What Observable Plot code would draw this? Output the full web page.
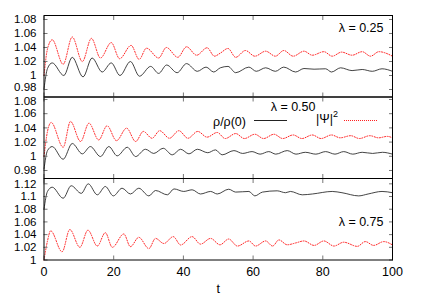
<!DOCTYPE html>
<html><head><meta charset="utf-8">
<script src="https://cdn.jsdelivr.net/npm/d3@7"></script>
<script src="https://cdn.jsdelivr.net/npm/@observablehq/plot@0.6"></script>
<style>
body{margin:0;background:#fff;}
#chart{position:relative;width:436px;height:305px;font-family:"Liberation Sans",Arial,sans-serif;font-size:12.5px;color:#000;}
#chart svg{position:absolute;left:0;}
.lg{position:absolute;line-height:14px;white-space:nowrap;}
.ln{position:absolute;height:0;width:33px;}
</style></head><body><div id="chart"></div><script>
// ---- data ----
const xTicks = [0, 20, 40, 60, 80, 100];
const yTicksA = [0.98, 1, 1.02, 1.04, 1.06, 1.08];
const yTicksB = [0.98, 1, 1.02, 1.04, 1.06, 1.08];
const yTicksC = [1, 1.02, 1.04, 1.06, 1.08, 1.1, 1.12];
const lambdaLabels = ["λ = 0.25", "λ = 0.50", "λ = 0.75"];
const legendLabels = ["ρ/ρ(0)", "|Ψ|"];

// lambda = 0.25
const tRho025 = [0,1,2.35,5.7,8.1,11.2,13.8,16.7,19.3,21.8,24.8,27.4,30.6,32.9,35.2,38.2,40.9,44,46.5,48.7,50.6,52.8,55,58.8,60.9,63.6,66.4,68.8,72.2,74.6,77.5,80.8,82.5,85.1,88.4,91.3,94.2,97,100];
const rho025 = [0.981,1.010,1.018,1.000,1.026,0.998,1.025,1.005,1.018,1.000,1.020,0.999,1.013,1.003,1.015,1.004,1.017,1.006,1.012,1.005,1.011,1.013,1.004,1.012,1.006,1.011,1.006,1.012,1.005,1.010,1.009,1.0096,1.005,1.011,1.007,1.0086,1.006,1.0096,1.006];
const tPsi025 = [0,1,2.35,5.5,8.1,11,13.6,16.2,19.3,21.7,25,27.3,29.4,32.9,35.1,38.4,40.9,43.8,46.8,48.9,50.6,52.8,55,57.8,60.5,63.6,66.4,68.8,71.5,74.6,77,80.3,82.7,85.4,88.4,91.3,93.7,96.1,100];
const psi025 = [1.000,1.038,1.051,1.016,1.055,1.020,1.053,1.025,1.047,1.024,1.043,1.023,1.039,1.025,1.040,1.026,1.041,1.029,1.0396,1.0276,1.032,1.0386,1.026,1.0357,1.0276,1.0347,1.0276,1.0357,1.0276,1.0347,1.029,1.034,1.0276,1.0334,1.029,1.034,1.0276,1.034,1.0276];

// lambda = 0.50
const tRho050 = [0,1,2.35,5.5,8.1,11,13.3,16.2,18.6,21,23.9,26.3,29.1,31.5,34.2,36.8,39.2,41.6,44,47,49.2,51.1,54.5,57,59.7,62,64.5,66.5,69.8,72.3,75,78,80.8,83.5,86,88.6,91.3,94.3,97.1,100];
const rho050 = [0.982,1.008,1.0137,0.9958,1.018,1.0034,1.0137,0.9996,1.0137,1.0006,1.0127,0.9996,1.0099,1.004,1.0113,1.002,1.0099,1.0034,1.0099,1.005,1.009,1.002,1.008,1.004,1.0066,1.003,1.0066,1.003,1.008,1.003,1.0056,1.003,1.0066,1.003,1.0066,1.003,1.0056,1.004,1.0056,1.003];
const tPsi050 = [0,1,2.05,5.5,7.6,10.5,12.9,15.7,18.1,20.8,23.7,26.3,28.5,31,33.2,36,38.7,41.3,44.1,46.8,49.7,52,55,57.5,60.5,63,66,68.5,71.5,74,77,79.5,82.5,85,88,90.5,93.5,96,98.5,100];
const psi050 = [1.000,1.035,1.0476,1.0127,1.049,1.0208,1.0466,1.023,1.043,1.022,1.0396,1.0208,1.035,1.0254,1.036,1.0254,1.036,1.0254,1.035,1.027,1.0335,1.025,1.032,1.025,1.031,1.025,1.031,1.025,1.030,1.025,1.030,1.025,1.030,1.026,1.029,1.025,1.029,1.026,1.028,1.026];

// lambda = 0.75
const tRho075 = [0,1,2.35,5.5,7.8,10.7,12.7,15.3,17.6,19.9,22.4,24.8,27.2,30.1,32,35.4,37.3,40.1,42.5,44.9,47.8,49.7,53,55,58.8,60.5,62.7,66.9,69.3,70.7,74.1,77,82.7,85.5,90.3,93,97,100];
const rho075 = [1.080,1.108,1.1147,1.0973,1.117,1.105,1.120,1.1027,1.1158,1.101,1.1131,1.104,1.1131,1.101,1.1095,1.1027,1.112,1.108,1.1106,1.104,1.108,1.104,1.1115,1.107,1.108,1.101,1.107,1.109,1.106,1.108,1.1027,1.104,1.108,1.106,1.101,1.104,1.108,1.106];
const tPsi075 = [0,1,1.9,5.2,7.4,10.3,12.6,15.3,17.6,19.6,22.9,24.8,27.2,30.1,32,34.4,37.1,39.2,42.5,44.9,47.8,50.5,53,55.5,58.8,60.7,63.6,65.6,67.4,69.8,72.3,74.6,77.5,80.3,83.2,86,89.9,92.2,94.6,97.5,100];
const psi075 = [1.000,1.030,1.046,1.013,1.048,1.020,1.047,1.022,1.043,1.020,1.041,1.021,1.0357,1.018,1.034,1.026,1.0368,1.0237,1.0368,1.025,1.034,1.024,1.033,1.022,1.030,1.022,1.030,1.022,1.0316,1.024,1.027,1.030,1.023,1.030,1.022,1.028,1.0215,1.029,1.023,1.029,1.0237];

// ---- drawing ----
const chart = document.getElementById("chart");
const FONT = '"Liberation Sans", Arial, sans-serif';
const FS = 11.5;
const rows = (ts, vs) => ts.map((t, i) => ({t, v: vs[i]}));

function panel({top, height, mt, mb, domain, yTicks, nudge, tRho, rho, tPsi, psi, label, ldx, ldy, bottomAxis}) {
  const plain = yTicks.filter(d => !nudge || d !== nudge.tick);
  const marks = [
    Plot.line(rows(tPsi, psi), {x: "t", y: "v", stroke: "#ff2020", strokeWidth: 1, strokeDasharray: "1,1.6", curve: "monotone-x"}),
    Plot.line(rows(tRho, rho), {x: "t", y: "v", stroke: "#222", strokeWidth: 0.85, curve: "monotone-x"}),
    Plot.axisY({ticks: plain, anchor: "left", tickSize: 0, tickPadding: 7.5, tickFormat: d => String(d), label: null, fontSize: FS}),
    Plot.axisY({ticks: yTicks, anchor: "left", tickSize: -4, tickFormat: () => "", label: null, stroke: "#777"}),
    Plot.axisY({ticks: yTicks, anchor: "right", tickSize: -4, tickFormat: () => "", label: null, stroke: "#777"}),
    Plot.axisX({ticks: xTicks, anchor: "bottom", tickSize: -4, tickFormat: () => "", label: null, stroke: "#777"}),
    Plot.axisX({ticks: xTicks, anchor: "top", tickSize: -4, tickFormat: () => "", label: null, stroke: "#777"}),
    Plot.frame({stroke: "#000", strokeWidth: 1}),
    Plot.text([label], {text: d => d, frameAnchor: "top-right", textAnchor: "end", lineAnchor: "middle", dx: ldx, dy: ldy, fontSize: 12.5, fill: "#000"})
  ];
  if (nudge) {
    marks.push(Plot.axisY({ticks: [nudge.tick], anchor: "left", tickSize: 0, tickPadding: 7.5, tickFormat: d => String(d), label: null, fontSize: FS, dy: nudge.dy}));
  }
  if (bottomAxis) {
    marks.push(Plot.axisX({ticks: xTicks, anchor: "bottom", tickSize: 0, tickPadding: 7, label: null, fontSize: 12.5}));
    marks.push(Plot.text(["t"], {text: d => d, frameAnchor: "bottom", textAnchor: "middle", lineAnchor: "middle", dy: 28.5, fontSize: 12.5, fill: "#000"}));
  }
  const p = Plot.plot({
    width: 436, height, marginLeft: 43.5, marginRight: 44, marginTop: mt, marginBottom: mb,
    style: {background: "transparent", overflow: "visible", fontFamily: FONT, fontSize: FS + "px", color: "#000"},
    x: {domain: [0, 100]},
    y: {domain},
    marks
  });
  p.style.top = top + "px";
  chart.appendChild(p);
}

panel({top: 0, height: 100, mt: 15, mb: 3.5, domain: [0.9693, 1.0857], yTicks: yTicksA, nudge: {tick: 0.98, dy: -2},
  tRho: tRho025, rho: rho025, tPsi: tPsi025, psi: psi025, label: lambdaLabels[0], ldx: -9, ldy: 12});
panel({top: 90, height: 95, mt: 6.5, mb: 7, domain: [0.9687, 1.0835], yTicks: yTicksB, nudge: {tick: 1.08, dy: 2},
  tRho: tRho050, rho: rho050, tPsi: tPsi050, psi: psi050, label: lambdaLabels[1], ldx: -77, ldy: 10.2});
panel({top: 170, height: 135, mt: 8, mb: 45.5, domain: [1, 1.1284], yTicks: yTicksC,
  tRho: tRho075, rho: rho075, tPsi: tPsi075, psi: psi075, label: lambdaLabels[2], ldx: -9, ldy: 43.7, bottomAxis: true});

// legend (in middle panel)
function el(cls, css, html) { const d = document.createElement("div"); d.className = cls; d.style.cssText = css; if (html) d.innerHTML = html; chart.appendChild(d); }
el("lg", "right:190px;top:114.7px;", legendLabels[0]);
el("ln", "left:254px;top:120px;border-top:1px solid #222;");
el("lg", "left:316px;top:112.3px;", legendLabels[1] + '<sup style="font-size:9px;vertical-align:6px;line-height:0">2</sup>');
el("ln", "left:344px;top:120px;border-top:1px dotted #ff2020;");
</script></body></html>
